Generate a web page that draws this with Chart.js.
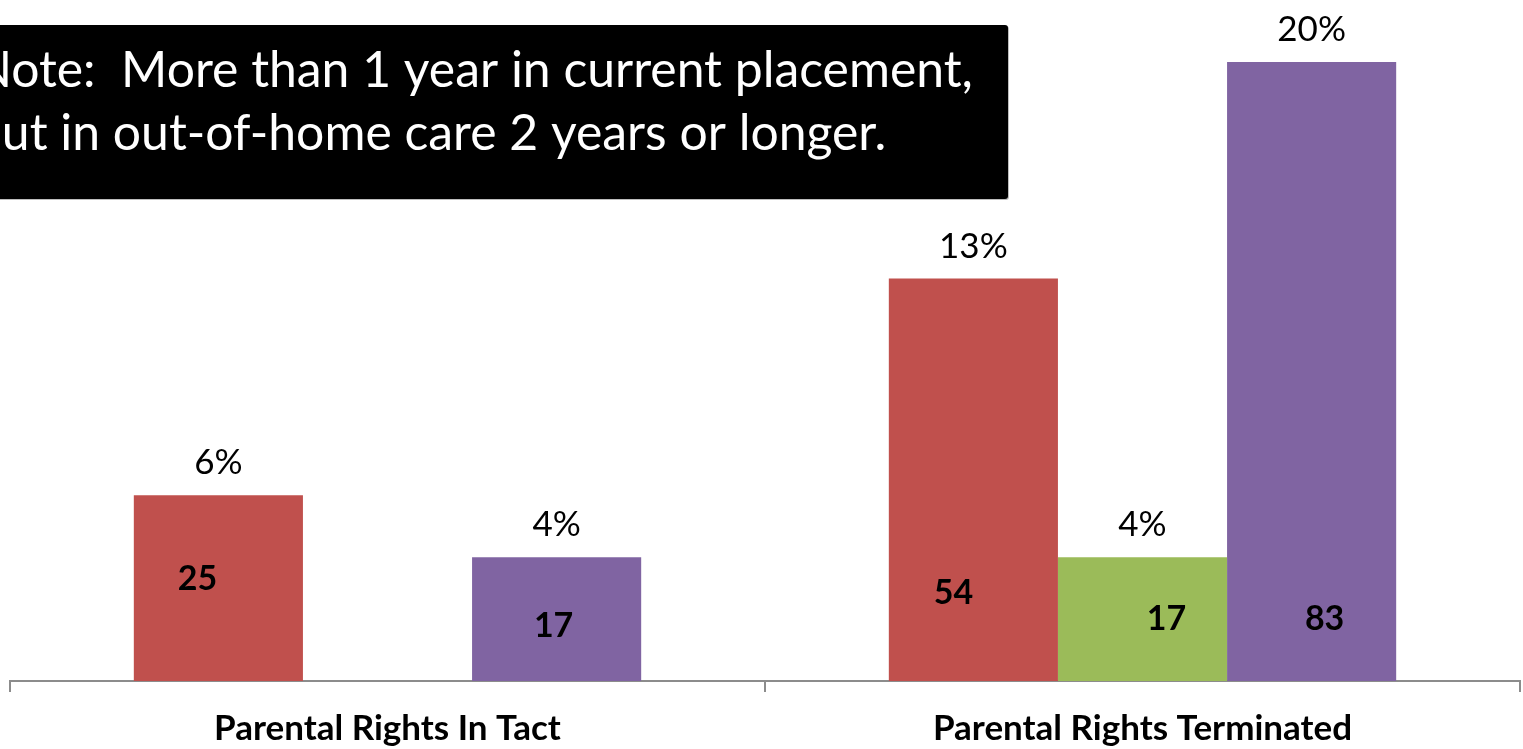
<!DOCTYPE html>
<html><head><meta charset="utf-8">
<script src="https://cdn.jsdelivr.net/npm/chart.js@4.4.1/dist/chart.umd.min.js"></script>
<style>html,body{margin:0;padding:0;background:#fff;overflow:hidden}</style>
</head><body><canvas id="c" width="1523" height="749"></canvas>
<script>
// ---- data ----
const categories = ['Parental Rights In Tact', 'Parental Rights Terminated'];
const seriesNames = ['Group 1', 'Group 2', 'Group 3'];
const redPercent = [6, 13];
const greenPercent = [null, 4];
const purplePercent = [4, 20];
const redCounts = [25, 54];
const greenCounts = [null, 17];
const purpleCounts = [17, 83];
const noteLines = ['Note:  More than 1 year in current placement,', 'but in out-of-home care 2 years or longer.'];

// ---- layout / style (not data) ----
const COLORS = ['#C0504D', '#9BBB59', '#8064A2'];
const countOffsets = [ // [dx from bar centre, baseline offset from axis]
  [[-21, -91], [-20, -77]],
  [null, [24, -51]],
  [[-3, -44], [13, -51]]
];
const FONT = 'Lato, "Open Sans", sans-serif';

const percents = [redPercent, greenPercent, purplePercent];
const counts = [redCounts, greenCounts, purpleCounts];

const labelPlugin = {
  id: 'labels',
  afterDatasetsDraw(chart) {
    const ctx = chart.ctx;
    const base = chart.scales.y.getPixelForValue(0);
    ctx.save();
    chart.data.datasets.forEach((ds, di) => {
      const meta = chart.getDatasetMeta(di);
      meta.data.forEach((bar, i) => {
        const v = percents[di][i];
        if (v == null) return;
        ctx.fillStyle = '#000';
        ctx.textAlign = 'center';
        ctx.textBaseline = 'alphabetic';
        ctx.font = '35px ' + FONT;
        ctx.fillText(v + '%', bar.x, bar.y - 21);
        const c = counts[di][i];
        const off = countOffsets[di][i];
        if (c != null && off) {
          ctx.font = 'bold 34px ' + FONT;
          ctx.fillText(String(c), bar.x + off[0], base + off[1]);
        }
      });
    });
    ctx.restore();
  },
  afterDraw(chart) {
    const ctx = chart.ctx;
    ctx.save();
    ctx.fillStyle = '#bdbdbd';
    ctx.beginPath();
    ctx.roundRect(-10, 26, 1019, 174, 3);
    ctx.fill();
    ctx.fillStyle = '#000';
    ctx.beginPath();
    ctx.roundRect(-10, 25, 1018, 174, 3);
    ctx.fill();
    // fit the note text to the box width
    ctx.font = '40px ' + FONT;
    const rest = noteLines[0].slice(1);
    const w = ctx.measureText(rest).width;
    const size = 40 * 962 / w;
    ctx.font = size.toFixed(2) + 'px ' + FONT;
    const nW = ctx.measureText(noteLines[0][0]).width;
    const x0 = 12 - nW;
    ctx.fillStyle = '#fff';
    ctx.textAlign = 'left';
    ctx.textBaseline = 'alphabetic';
    ctx.fillText(noteLines[0], x0, 87);
    ctx.fillText(noteLines[1], x0, 150);
    ctx.restore();
  }
};

new Chart(document.getElementById('c'), {
  type: 'bar',
  data: {
    labels: categories,
    datasets: [
      { label: seriesNames[0], data: redPercent, backgroundColor: COLORS[0] },
      { label: seriesNames[1], data: greenPercent, backgroundColor: COLORS[1] },
      { label: seriesNames[2], data: purplePercent, backgroundColor: COLORS[2] }
    ]
  },
  options: {
    responsive: false,
    animation: false,
    devicePixelRatio: 1,
    layout: { padding: { left: 10, right: 3, top: 0, bottom: 0 } },
    datasets: { bar: { categoryPercentage: 0.672, barPercentage: 1.0, borderWidth: 0 } },
    plugins: { legend: { display: false }, tooltip: { enabled: false } },
    scales: {
      x: {
        afterFit(s) { s.height = 68; },
        grid: { offset: true, drawOnChartArea: false, tickLength: 11, color: '#8c8c8c', lineWidth: 2 },
        border: { color: '#8c8c8c', width: 2 },
        ticks: { color: '#000', padding: 16, font: { family: FONT, size: 35, weight: 'bold' } }
      },
      y: { display: false, min: 0, max: 22 }
    }
  },
  plugins: [labelPlugin]
});
</script>
</body></html>
